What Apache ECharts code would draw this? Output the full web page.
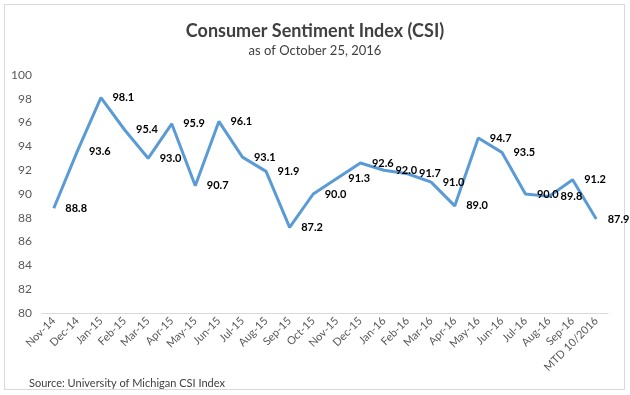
<!DOCTYPE html>
<html>
<head>
<meta charset="utf-8">
<script src="https://cdn.jsdelivr.net/npm/echarts@6/dist/echarts.min.js"></script>
<style>
html,body{margin:0;padding:0;background:#fff;}
#frame{position:absolute;left:4px;top:4px;width:621px;height:386px;border:1px solid #d9d9d9;box-sizing:border-box;}
#chart{position:absolute;left:0;top:0;width:630px;height:395px;}
</style>
</head>
<body>
<div id="frame"></div>
<div id="chart"></div>
<script>
const categories = ["Nov-14","Dec-14","Jan-15","Feb-15","Mar-15","Apr-15","May-15","Jun-15","Jul-15","Aug-15","Sep-15","Oct-15","Nov-15","Dec-15","Jan-16","Feb-16","Mar-16","Apr-16","May-16","Jun-16","Jul-16","Aug-16","Sep-16","MTD 10/2016"];
const csiValues = [88.8,93.6,98.1,95.4,93.0,95.9,90.7,96.1,93.1,91.9,87.2,90.0,91.3,92.6,92.0,91.7,91.0,89.0,94.7,93.5,90.0,89.8,91.2,87.9];
const titleText = "Consumer Sentiment Index (CSI)";
const subtitleText = "as of October 25, 2016";
const sourceText = "Source: University of Michigan CSI Index";

const font = "Lato, 'Open Sans', sans-serif";
const chart = echarts.init(document.getElementById('chart'), null, {renderer:'canvas'});
chart.setOption({
  backgroundColor: 'transparent',
  animation: false,
  title: [
    {text: titleText, left: 'center', top: 17,
     textStyle: {fontFamily: font, fontSize: 18, fontWeight: 'bold', color: '#404040'}},
    {text: subtitleText, left: 'center', top: 39,
     textStyle: {fontFamily: font, fontSize: 13, fontWeight: 'normal', color: '#404040'}},
    {text: sourceText, left: 24, top: 373,
     textStyle: {fontFamily: font, fontSize: 11, fontWeight: 'normal', color: '#404040'}}
  ],
  grid: {left: 42, right: 22, top: 75, bottom: 82, containLabel: false},
  xAxis: {
    type: 'category',
    data: categories,
    boundaryGap: true,
    axisLine: {show: true, lineStyle: {color: '#d9d9d9', width: 1}},
    axisTick: {show: false},
    axisLabel: {rotate: 45, interval: 0, fontFamily: font, fontSize: 11, color: '#595959', margin: 6}
  },
  yAxis: {
    type: 'value',
    min: 80, max: 100, interval: 2,
    axisLine: {show: false},
    axisTick: {show: false},
    splitLine: {show: false},
    axisLabel: {fontFamily: font, fontSize: 12, color: '#595959', margin: 10}
  },
  series: [{
    type: 'line',
    data: csiValues,
    symbol: 'circle',
    symbolSize: 1,
    showSymbol: true,
    itemStyle: {color: 'rgba(91,155,213,0)'},
    lineStyle: {color: '#5b9bd5', width: 3},
    label: {
      show: true, position: 'right', distance: 11,
      formatter: p => p.value.toFixed(1),
      fontFamily: font, fontSize: 11, fontWeight: 'bold', color: '#000'
    },
    labelLayout: {hideOverlap: false}
  }]
});
</script>
</body>
</html>
